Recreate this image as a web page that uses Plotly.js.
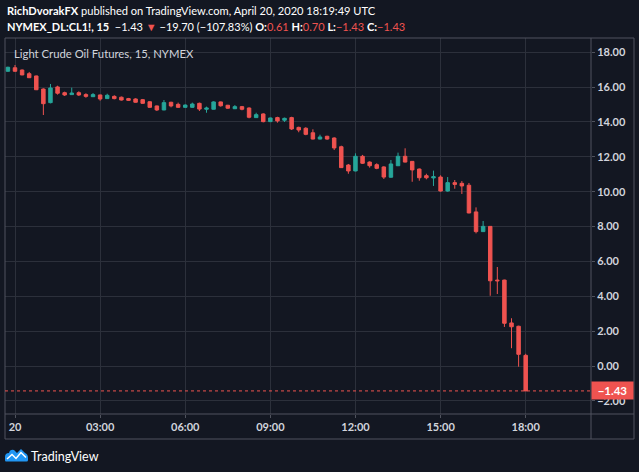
<!DOCTYPE html>
<html><head><meta charset="utf-8">
<script src="https://cdn.plot.ly/plotly-3.0.1.min.js"></script>
<style>html,body{margin:0;padding:0;background:#131722;overflow:hidden}#chart{width:639px;height:472px}</style>
</head><body><div id="chart"></div>
<script>
// 15-minute bars, 19 Apr 23:45 UTC to 20 Apr 18:00 UTC
const barTimes = [
"2020-04-19 23:45","2020-04-20 00:00","2020-04-20 00:15","2020-04-20 00:30","2020-04-20 00:45",
"2020-04-20 01:00","2020-04-20 01:15","2020-04-20 01:30","2020-04-20 01:45",
"2020-04-20 02:00","2020-04-20 02:15","2020-04-20 02:30","2020-04-20 02:45",
"2020-04-20 03:00","2020-04-20 03:15","2020-04-20 03:30","2020-04-20 03:45",
"2020-04-20 04:00","2020-04-20 04:15","2020-04-20 04:30","2020-04-20 04:45",
"2020-04-20 05:00","2020-04-20 05:15","2020-04-20 05:30","2020-04-20 05:45",
"2020-04-20 06:00","2020-04-20 06:15","2020-04-20 06:30","2020-04-20 06:45",
"2020-04-20 07:00","2020-04-20 07:15","2020-04-20 07:30","2020-04-20 07:45",
"2020-04-20 08:00","2020-04-20 08:15","2020-04-20 08:30","2020-04-20 08:45",
"2020-04-20 09:00","2020-04-20 09:15","2020-04-20 09:30","2020-04-20 09:45",
"2020-04-20 10:00","2020-04-20 10:15","2020-04-20 10:30","2020-04-20 10:45",
"2020-04-20 11:00","2020-04-20 11:15","2020-04-20 11:30","2020-04-20 11:45",
"2020-04-20 12:00","2020-04-20 12:15","2020-04-20 12:30","2020-04-20 12:45",
"2020-04-20 13:00","2020-04-20 13:15","2020-04-20 13:30","2020-04-20 13:45",
"2020-04-20 14:00","2020-04-20 14:15","2020-04-20 14:30","2020-04-20 14:45",
"2020-04-20 15:00","2020-04-20 15:15","2020-04-20 15:30","2020-04-20 15:45",
"2020-04-20 16:00","2020-04-20 16:15","2020-04-20 16:30","2020-04-20 16:45",
"2020-04-20 17:00","2020-04-20 17:15","2020-04-20 17:30","2020-04-20 17:45",
"2020-04-20 18:00"];

const openVals = [16.91,17.11,16.98,16.77,16.64,15.89,15.11,16.01,15.68,15.57,15.68,15.57,15.45,15.55,15.34,15.47,15.42,15.34,15.32,15.28,
15.16,14.92,14.69,15.13,15.01,14.84,14.84,15.07,14.73,14.73,15.15,14.96,14.76,14.88,14.80,14.25,14.46,14.02,14.25,14.10,
14.25,13.69,13.64,13.38,13.02,13.18,13.08,12.58,11.53,11.19,12.03,11.70,11.55,11.42,10.83,11.49,12.03,11.74,11.30,10.92,
10.79,10.84,10.04,10.52,10.48,10.37,8.84,7.71,8.01,4.93,4.93,2.47,2.28,0.61];
const highVals = [17.17,17.27,17.01,16.87,16.66,15.93,16.18,16.08,15.74,15.97,15.76,15.65,15.66,15.57,15.62,15.53,15.46,15.38,15.36,15.32,
15.19,14.94,15.26,15.16,15.11,15.01,15.11,15.11,14.88,15.19,15.17,14.98,14.97,14.92,14.84,14.53,14.50,14.25,14.30,14.25,
14.30,13.73,13.70,13.58,13.27,13.21,13.12,12.64,11.59,12.20,12.11,11.74,11.63,11.46,11.82,12.24,12.49,11.76,11.33,11.03,
11.21,10.94,10.84,10.67,10.61,10.50,9.10,8.32,8.03,5.68,4.95,2.74,2.31,0.70];
const lowVals = [16.88,16.88,16.68,16.52,15.83,14.40,15.07,15.57,15.49,15.55,15.49,15.39,15.43,15.22,15.32,15.30,15.23,15.21,15.11,15.05,
14.81,14.63,14.67,14.84,14.82,14.82,14.82,14.63,14.53,14.72,14.88,14.76,14.74,14.67,14.21,14.23,13.98,14.00,13.96,14.00,
13.54,13.41,13.24,13.00,13.00,12.98,12.39,11.36,11.03,11.17,11.59,11.38,11.29,10.73,10.80,11.47,11.68,10.57,10.63,10.71,
10.33,10.00,10.00,10.17,9.87,8.76,7.61,7.69,4.03,4.13,2.24,1.02,-0.04,-1.43];
const closeVals = [17.14,16.91,16.70,16.54,15.85,15.05,15.95,15.65,15.55,15.66,15.55,15.47,15.57,15.32,15.53,15.34,15.26,15.24,15.13,15.07,
14.84,14.69,15.11,14.92,14.84,14.97,15.03,14.74,14.80,15.15,14.93,14.79,14.88,14.73,14.27,14.42,14.02,14.23,14.06,14.21,
13.60,13.54,13.29,13.02,13.14,13.02,12.51,11.38,11.19,12.03,11.63,11.49,11.34,10.84,11.59,12.03,11.70,11.25,10.80,10.80,
10.86,10.04,10.52,10.42,10.33,8.78,7.71,8.01,4.89,4.89,2.45,2.25,0.67,-1.43];

const timeTickVals = ["2020-04-20 00:00","2020-04-20 03:00","2020-04-20 06:00","2020-04-20 09:00","2020-04-20 12:00","2020-04-20 15:00","2020-04-20 18:00"];
const timeTickText = ["20","03:00","06:00","09:00","12:00","15:00","18:00"];
const priceTicks = [-2,0,2,4,6,8,10,12,14,16,18];

const lastClose = closeVals[closeVals.length-1];
const fmt = v => (v<0?'\u2212':'') + Math.abs(v).toFixed(2);

const RED = '#ef5350', TEAL = '#26a69a', BG = '#131722', GRID = '#2c303b', FRAME = '#50535e';
const FONT = 'Lato, "Open Sans", sans-serif';

const trace = {
  type: 'candlestick', x: barTimes, open: openVals, high: highVals, low: lowVals, close: closeVals,
  increasing: {line: {color: TEAL, width: 1}, fillcolor: TEAL},
  decreasing: {line: {color: RED, width: 1}, fillcolor: RED},
  whiskerwidth: 0, hoverinfo: 'skip', showlegend: false
};

const px2x = p => (p - 5) / 586;
const px2y = p => (414 - p) / 376;

const logoSvg = "data:image/svg+xml;utf8," + encodeURIComponent(
 '<svg xmlns="http://www.w3.org/2000/svg" width="46" height="28" viewBox="0 0 46 28">' +
 '<path d="M2 27 Q0 27 0 24 L0 18 Q0 10 8 10 Q10 2 18 4 L24 10 L32 2 L40 10 Q46 12 46 20 L46 24 Q46 27 43 27 Z" fill="#2196f3"/>' +
 '<polyline points="4,22 14,13 22,21 32,9 42,19" fill="none" stroke="#ffffff" stroke-width="3"/>' +
 '</svg>');

const layout = {
  width: 639, height: 472,
  paper_bgcolor: BG, plot_bgcolor: BG,
  margin: {l: 5, r: 48, t: 38, b: 58},
  font: {family: FONT, color: '#d1d4dc'},
  showlegend: false,
  xaxis: {
    type: 'date', range: ['2020-04-19 23:38:51', '2020-04-20 20:18:07'],
    rangeslider: {visible: false}, fixedrange: true,
    tickvals: timeTickVals, ticktext: timeTickText,
    showgrid: true, gridcolor: GRID, gridwidth: 1, zeroline: false, showline: false,
    ticks: 'outside', ticklen: 3, tickcolor: FRAME,
    tickfont: {family: FONT, size: 11, color: '#d1d4dc', weight: 'bold'}
  },
  yaxis: {
    side: 'right', range: [-2.754, 18.818], fixedrange: true,
    tickvals: priceTicks, ticktext: priceTicks.map(fmt),
    showgrid: true, gridcolor: GRID, gridwidth: 1, zeroline: false, showline: false,
    ticks: 'outside', ticklen: 3, tickcolor: FRAME,
    tickfont: {family: FONT, size: 11, color: '#d1d4dc', weight: 'bold'}
  },
  shapes: [
    {type: 'rect', xref: 'paper', yref: 'paper', x0: px2x(5), x1: px2x(634), y0: px2y(439), y1: px2y(38),
      line: {color: FRAME, width: 1}, fillcolor: 'rgba(0,0,0,0)', layer: 'above'},
    {type: 'line', xref: 'paper', yref: 'paper', x0: 1, x1: 1, y0: px2y(439), y1: px2y(38),
      line: {color: FRAME, width: 1}, layer: 'above'},
    {type: 'line', xref: 'paper', yref: 'paper', x0: 0, x1: px2x(634), y0: 0, y1: 0,
      line: {color: FRAME, width: 1}, layer: 'above'},
    {type: 'line', xref: 'paper', yref: 'y', x0: 0, x1: 1, y0: lastClose, y1: lastClose,
      line: {color: RED, width: 1, dash: 'dot'}, layer: 'above'}
  ],
  annotations: [
    {xref: 'paper', yref: 'paper', x: px2x(5), y: px2y(11), xanchor: 'left', yanchor: 'middle', showarrow: false,
      text: '<b>RichDvorakFX</b> published on TradingView.com, April 20, 2020 18:19:49 UTC',
      font: {family: FONT, size: 11.1, color: '#ffffff'}},
    {xref: 'paper', yref: 'paper', x: px2x(5), y: px2y(26), xanchor: 'left', yanchor: 'middle', showarrow: false,
      text: '<b>NYMEX_DL:CL1!, 15</b>  ' + fmt(lastClose) + ' <span style="color:' + RED + '">\u25BC</span> \u221219.70 (\u2212107.83%) ' +
            '<b>O:</b><span style="color:' + RED + '">' + fmt(openVals[openVals.length-1]) + '</span> ' +
            '<b>H:</b><span style="color:' + RED + '">' + fmt(highVals[highVals.length-1]) + '</span> ' +
            '<b>L:</b><span style="color:' + RED + '">' + fmt(lowVals[lowVals.length-1]) + '</span> ' +
            '<b>C:</b><span style="color:' + RED + '">' + fmt(lastClose) + '</span>',
      font: {family: FONT, size: 11.0, color: '#ffffff'}},
    {xref: 'paper', yref: 'paper', x: px2x(12), y: px2y(53), xanchor: 'left', yanchor: 'middle', showarrow: false,
      text: 'Light Crude Oil Futures, 15, NYMEX', font: {family: FONT, size: 11.3, color: '#d1d4dc'}},
    {xref: 'paper', yref: 'y', x: 1, y: lastClose, xanchor: 'left', yanchor: 'middle', showarrow: false,
      text: '<b>' + fmt(lastClose) + '</b>', bgcolor: RED, width: 37, height: 13, borderpad: 2,
      font: {family: FONT, size: 11.5, color: '#ffffff'}},
    {xref: 'paper', yref: 'paper', x: px2x(29), y: px2y(456), xanchor: 'left', yanchor: 'middle', showarrow: false,
      text: 'TradingView', font: {family: FONT, size: 12.5, color: '#ffffff'}}
  ],
  images: [
    {source: logoSvg, xref: 'paper', yref: 'paper', x: px2x(5), y: px2y(448), sizex: 23/586, sizey: 14/376,
      xanchor: 'left', yanchor: 'top', sizing: 'stretch', layer: 'above'}
  ]
};

Plotly.newPlot('chart', [trace], layout, {displayModeBar: false, staticPlot: true});
</script></body></html>
